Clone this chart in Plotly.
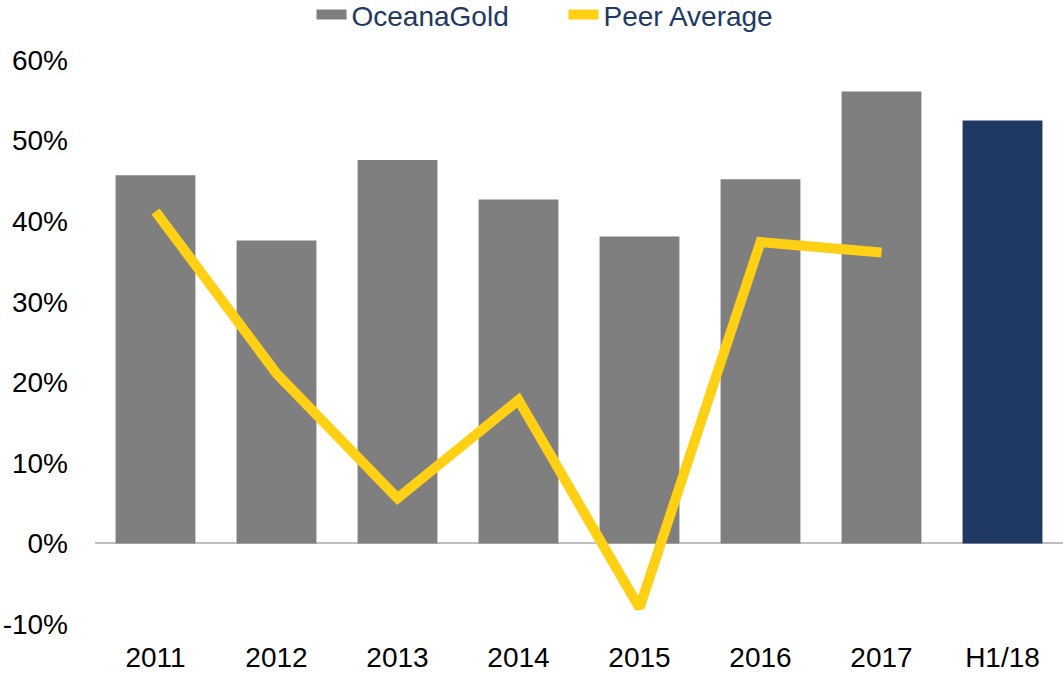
import plotly.graph_objects as go

categories = ["2011", "2012", "2013", "2014", "2015", "2016", "2017", "H1/18"]
oceana_values = [45.7, 37.6, 47.6, 42.7, 38.1, 45.2, 56.1, 52.5]
peer_categories = ["2011", "2012", "2013", "2014", "2015", "2016", "2017"]
peer_values = [41.2, 21.1, 5.6, 17.8, -8.0, 37.4, 36.1]
bar_colors = ["#7F7F7F"] * 7 + ["#1F3864"]
tick_vals = [-10, 0, 10, 20, 30, 40, 50, 60]
tick_text = ["-10%", "0%", "10%", "20%", "30%", "40%", "50%", "60%"]

fig = go.Figure()
fig.add_trace(go.Bar(
    x=categories, y=oceana_values, name="OceanaGold", showlegend=False,
    marker=dict(color=bar_colors, line=dict(width=0)),
))
# legend key for the bars (wide grey rectangle as in the reference)
fig.add_trace(go.Scatter(
    x=[None], y=[None], name="OceanaGold", mode="lines",
    line=dict(color="#7F7F7F", width=19),
))
fig.add_trace(go.Scatter(
    x=peer_categories, y=peer_values, name="Peer Average", mode="lines",
    line=dict(color="#FFD014", width=10),
))

fig.update_layout(
    width=1063, height=678,
    margin=dict(l=95, r=0, t=60, b=54, autoexpand=False),
    paper_bgcolor="white", plot_bgcolor="white",
    bargap=0.34,
    font=dict(family="Liberation Sans, Arial, sans-serif", size=28, color="#000000"),
    showlegend=True,
    legend=dict(
        orientation="h", x=0.484, xanchor="center", y=1.08, yanchor="middle",
        font=dict(size=28, color="#1F3864"),
        traceorder="normal", itemwidth=30, tracegroupgap=0,
        entrywidth=207, entrywidthmode="pixels",
    ),
    xaxis=dict(
        showgrid=False, showline=False, zeroline=False, ticks="",
        ticklabelstandoff=14, tickfont=dict(size=28, color="#000000"),
        automargin=False,
    ),
    yaxis=dict(
        range=[-10, 60], tickvals=tick_vals, ticktext=tick_text,
        showgrid=False, showline=False, zeroline=True,
        zerolinecolor="#BFBFBF", zerolinewidth=2, ticks="",
        ticklabelstandoff=26, tickfont=dict(size=28, color="#000000"),
        automargin=False,
    ),
)

fig.write_html(
    "out.html",
    config={"displayModeBar": False},
    post_script="document.body.style.margin='0';document.body.style.overflow='hidden';",
)
